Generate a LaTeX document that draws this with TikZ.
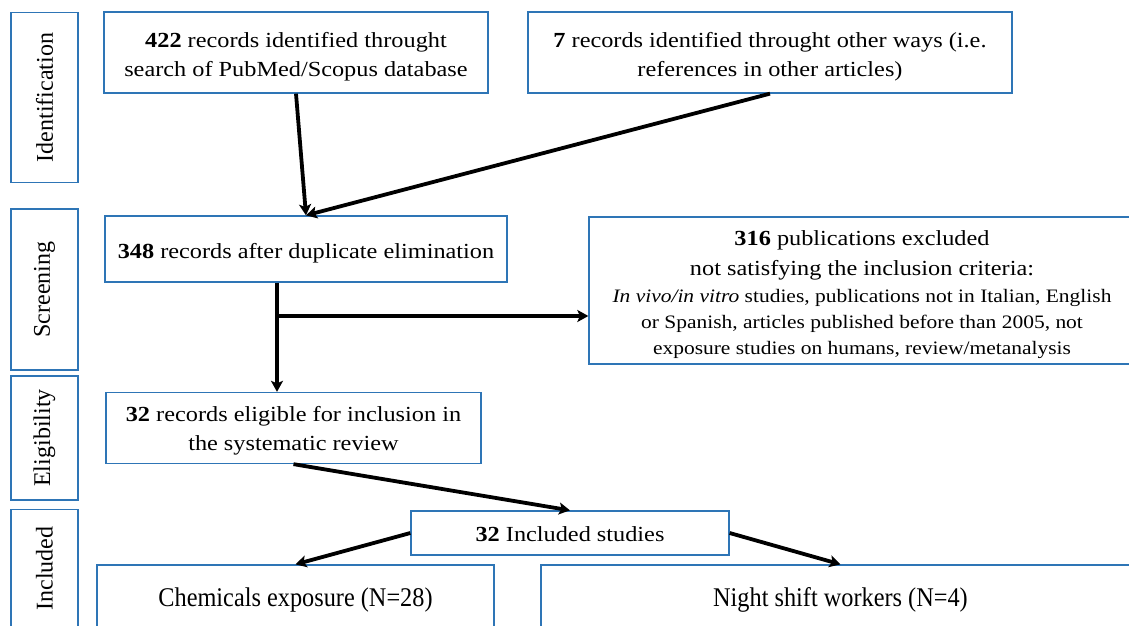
\documentclass[tikz,border=0pt]{standalone}
\usepackage{fontspec}
\setmainfont{Liberation Serif}
\newfontfamily\wf{Liberation Serif}[FakeStretch=1.13]
\newfontfamily\tf{Liberation Serif}[FakeStretch=0.9]
\usetikzlibrary{arrows.meta}
\definecolor{bordc}{RGB}{46,117,182}
\newcommand\smf{\wf\fontsize{19}{26}\selectfont}
\newcommand\topstr[1]{\rule{0pt}{#1pt}}
\newcommand\botstr[1]{\rule[-#1pt]{0pt}{#1pt}}
\begin{document}
\begin{tikzpicture}[x=1pt,y=-1pt,
  box/.style={draw=bordc, line width=1.3pt, align=center, inner sep=0pt, font=\wf\fontsize{21.5}{29}\selectfont},
  tallbox/.style={box, font=\tf\fontsize{27}{29}\selectfont},
  side/.style={box, rotate=90, font=\fontsize{24}{29}\selectfont},
  arr/.style={line width=3.8pt, -{Stealth[length=11pt,width=12pt,inset=2.5pt]}}]
\useasboundingbox (0,0) rectangle (1129,626);
\clip (0,0) rectangle (1129,626);
\fill[white] (0,0) rectangle (1129,626);
% side labels
\node[side, minimum width=170pt, minimum height=67pt] (sid) at (44.5,97.5) {Identification};
\node[side, minimum width=161pt, minimum height=67pt] (ssc) at (44.5,289.5) {Screening};
\node[side, minimum width=124pt, minimum height=67pt] (sel) at (44.5,438) {Eligibility};
\node[side, minimum width=118pt, minimum height=67pt] (sin) at (44.5,568.5) {Included};
% boxes
\node[box, minimum width=384pt, minimum height=81pt] (a) at (296,52.5)
  {\topstr{35.7}\textbf{422} records identified throught\\ search of PubMed/Scopus database\botstr{16.3}};
\node[box, minimum width=484pt, minimum height=81pt] (b) at (770,52.5)
  {\topstr{35.7}\textbf{7} records identified throught other ways (i.e.\\ references in other articles)\botstr{16.3}};
\node[box, anchor=base, minimum width=402pt, text height=42pt, text depth=24pt] (c) at (306,258)
  {\textbf{348} records after duplicate elimination};
\node[box, minimum width=546pt, minimum height=147pt] (d) at (862,290.5)
  {\topstr{28}\textbf{316} publications excluded\\[1pt]
   not satisfying the inclusion criteria:\\[-2pt]
   \smf\textit{In vivo/in vitro} studies, publications not in Italian, English\\[-3pt]
   \smf or Spanish, articles published before than 2005, not\\[-3pt]
   \smf exposure studies on humans, review/metanalysis\botstr{10}};
\node[box, minimum width=375pt, minimum height=71pt] (e) at (293.5,428)
  {\topstr{29.2}\textbf{32} records eligible for inclusion in\\ the systematic review\botstr{12.8}};
\node[box, anchor=base, minimum width=318pt, text height=30pt, text depth=14pt] (f) at (570,541)
  {\textbf{32} Included studies};
\node[tallbox, anchor=base, minimum width=397pt, text height=41.7pt, text depth=35pt] (g) at (295.5,606.7)
  {Chemicals exposure (N=28)};
\node[tallbox, anchor=base, minimum width=599pt, text height=41.7pt, text depth=35pt] (h) at (840.5,606.7)
  {Night shift workers (N=4)};
% connectors
\coordinate (br) at (277,316);
\draw[arr] (a.south) -- (c.north);
\draw[arr] (b.south) -- (c.north);
\draw[arr] (c.south -| br) -- (br |- e.north);
\draw[arr] (br) -- (br -| d.west);
\draw[arr] (e.south) -- (f.north);
\draw[arr] (f.west) -- (g.north);
\draw[arr] (f.east) -- (h.north);
\end{tikzpicture}
\end{document}
